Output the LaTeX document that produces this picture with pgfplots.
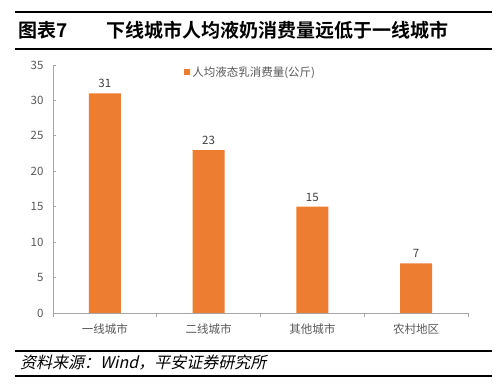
\documentclass[border=0pt]{standalone}
\usepackage{fontspec}
\setmainfont{Noto Sans CJK SC}[BoldFont={Noto Sans CJK SC Bold}, ItalicFont={Noto Sans CJK SC}, ItalicFeatures={FakeSlant=0.22}]
\usepackage{pgfplots}
\pgfplotsset{compat=1.18}
\definecolor{barorange}{HTML}{ED7D31}
\definecolor{axgray}{HTML}{A6A6A6}
\definecolor{txtgray}{HTML}{595959}
\begin{document}
\begin{tikzpicture}[x=1pt,y=1pt]
\fill[white] (0,0) rectangle (500,390);
\path[use as bounding box] (0,0) rectangle (500,390);
\draw[line width=1.8pt] (15,378) -- (492,378);
\draw[line width=1.5pt] (15,341) -- (492,341);
\node[anchor=west, inner sep=0pt, font=\fontsize{19}{20}\selectfont\bfseries] at (18,360) {图表7};
\node[anchor=west, inner sep=0pt, font=\fontsize{19}{20}\selectfont\bfseries] at (106,360) {下线城市人均液奶消费量远低于一线城市};
\draw[line width=1.5pt] (15,39) -- (492,39);
\draw[line width=1.5pt] (15,14) -- (492,14);
\node[anchor=west, inner sep=0pt, font=\fontsize{16}{17}\selectfont\itshape] at (20,27) {资料来源：Wind，平安证券研究所};
\begin{axis}[
  at={(53pt,77pt)}, anchor=south west,
  width=415pt, height=248pt, scale only axis,
  xmin=-0.5, xmax=3.5, ymin=0, ymax=35,
  ytick={0,5,...,35},
  xtick={0,1,2,3},
  xticklabels={一线城市,二线城市,其他城市,农村地区},
  minor xtick={-0.5,0.5,1.5,2.5,3.5},
  axis x line*=bottom, axis y line*=left,
  axis line style={axgray, line width=0.8pt, -},
  tick style={axgray, line width=0.8pt},
  major tick length=3pt, minor tick length=4pt,
  major x tick style={draw=none},
  tick label style={font=\fontsize{11.5}{12}\selectfont, text=txtgray},
  /pgf/number format/assume math mode=true,
  yticklabel style={xshift=-6pt},
  xticklabel style={yshift=-4pt},
  ybar, bar width=32pt,
  nodes near coords,
  every node near coord/.append style={font=\fontsize{11.5}{12}\selectfont, text=black!75, yshift=2pt},
  legend style={at={(0.316,0.972)}, anchor=west, draw=none, fill=none, font=\fontsize{11.5}{12}\selectfont, text=txtgray, inner sep=0pt},
  legend image code/.code={\fill[barorange] (0pt,-3pt) rectangle (6pt,3pt);},
]
\addplot[fill=barorange, draw=none] coordinates {(0,31) (1,23) (2,15) (3,7)};
\addlegendentry{人均液态乳消费量(公斤)}
\end{axis}
\end{tikzpicture}
\end{document}
